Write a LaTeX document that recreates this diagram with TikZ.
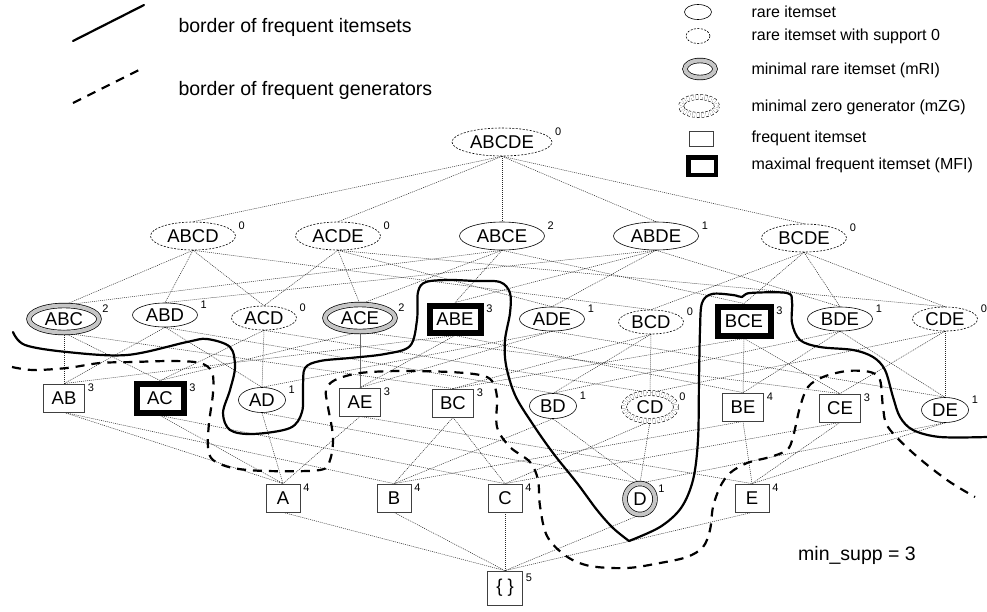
\documentclass[tikz,border=0pt]{standalone}
\usepackage{fontspec}
\setmainfont{Liberation Sans}
\usetikzlibrary{shapes.geometric,backgrounds}

\begin{document}
\begin{tikzpicture}[x=1pt,y=-1pt,
	every node/.append style={font=\fontsize{18.5}{20}\selectfont},
	rare/.style={ellipse,draw,line width=0.6pt,fill=white,inner sep=0pt},
	rarezero/.style={rare,dash pattern=on 2pt off 1.5pt},
	mri/.style={ellipse,draw,line width=0.7pt,double=gray!45,double distance=4pt,fill=white,inner sep=0pt},
	mzg/.style={ellipse,draw,line width=0.6pt,dash pattern=on 2.5pt off 2pt,double,double distance=4.5pt,fill=white,inner sep=0pt},
	freq/.style={rectangle,draw=black!75,line width=0.8pt,fill=white,inner sep=0pt},
	mfi/.style={rectangle,draw,line width=6pt,fill=white,inner sep=0pt},
	supp/.style={font=\fontsize{11}{11}\selectfont,inner sep=0pt},
	lat/.style={line width=0.5pt,black!85,dash pattern=on 1pt off 1pt},
	fiborder/.style={line width=2.2pt,line cap=round,line join=round},
	fgborder/.style={line width=2.2pt,dash pattern=on 9pt off 7pt},
	legtext/.style={anchor=west,font=\fontsize{16}{18}\selectfont},
	l5/.style={minimum width=100pt,minimum height=28pt},
	l4/.style={minimum width=85pt,minimum height=28pt},
	l3/.style={minimum width=65pt,minimum height=24pt},
	l2/.style={minimum width=47pt,minimum height=25pt},
	box2/.style={minimum width=41pt,minimum height=28pt},
	box1/.style={minimum width=34pt,minimum height=28pt}]

\useasboundingbox (0,0) rectangle (987,611);

% An itemset with its support written up right
\newcommand{\itemset}[5]{% name, style, position, label, support
	\node[#2] (#1) at (#3) {#4};
	\node[supp] (#1s) at ([xshift=6pt,yshift=10pt]#1.east) {#5};
}

% Left legend
\draw[fiborder] (73,41) -- (144,5);
\node[anchor=west,font=\fontsize{19.5}{22}\selectfont] (lgfi) at (175,27) {border of frequent itemsets};
\draw[fgborder] (73,103) -- (139,70);
\node[anchor=west,font=\fontsize{19.5}{22}\selectfont] (lgfg) at (175,90) {border of frequent generators};

% Right legend
\node[rare,minimum width=27pt,minimum height=15pt] (lg1) at (698,12) {};
\node[legtext] (lt1) at (748,12) {rare itemset};
\node[rarezero,minimum width=24pt,minimum height=15pt] (lg2) at (698,36) {};
\node[legtext] (lt2) at (748,36) {rare itemset with support 0};
\node[mri,minimum width=30pt,minimum height=17pt] (lg3) at (700,69) {};
\node[legtext] (lt3) at (748,70) {minimal rare itemset (mRI)};
\node[mzg,minimum width=36pt,minimum height=18pt] (lg4) at (699,106) {};
\node[legtext] (lt4) at (748,107) {minimal zero generator (mZG)};
\node[freq,minimum width=24pt,minimum height=15pt] (lg5) at (701,139) {};
\node[legtext] (lt5) at (748,138) {frequent itemset};
\node[mfi,line width=4.5pt,minimum width=27.5pt,minimum height=17.5pt] (lg6) at (702,166) {};
\node[legtext] (lt6) at (748,165) {maximal frequent itemset (MFI)};

% Level 5 and 4
\itemset{ABCDE}{rarezero,l5}{502,142}{ABCDE}{0}
\itemset{ABCD}{rarezero,l4}{193,236}{ABCD}{0}
\itemset{ACDE}{rarezero,l4}{338,236}{ACDE}{0}
\itemset{ABCE}{rare,l4}{502,236}{ABCE}{2}
\itemset{ABDE}{rare,l4}{656,236}{ABDE}{1}
\itemset{BCDE}{rarezero,l4}{804,238}{BCDE}{0}

% Level 3
\itemset{ABC}{mri,minimum width=70pt,minimum height=27pt}{64,319}{ABC}{2}
\itemset{ABD}{rare,l3}{165,315}{ABD}{1}
\itemset{ACD}{rarezero,l3}{264,318}{ACD}{0}
\itemset{ACE}{mri,minimum width=70pt,minimum height=27pt}{360,318}{ACE}{2}
\itemset{ABE}{mfi,minimum width=51pt,minimum height=27pt}{455,319}{ABE}{3}
\itemset{ADE}{rare,l3}{552,319}{ADE}{1}
\itemset{BCD}{rarezero,l3}{651,322}{BCD}{0}
\itemset{BCE}{mfi,minimum width=53pt,minimum height=29pt}{744,321}{BCE}{3}
\itemset{BDE}{rare,l3}{840,319}{BDE}{1}
\itemset{CDE}{rarezero,l3}{945,319}{CDE}{0}

% Level 2
\itemset{AB}{freq,box2}{64,398}{AB}{3}
\itemset{AC}{mfi,minimum width=47pt,minimum height=29pt}{160,398}{AC}{3}
\itemset{AD}{rare,l2}{262,400}{AD}{1}
\itemset{AE}{freq,box2}{360,402}{AE}{3}
\itemset{BC}{freq,box2}{453,403}{BC}{3}
\itemset{BD}{rare,l2}{553,406}{BD}{1}
\itemset{CD}{mzg,minimum width=52pt,minimum height=28pt}{650,407}{CD}{0}
\itemset{BE}{freq,box2}{743,407}{BE}{4}
\itemset{CE}{freq,box2}{840,408}{CE}{3}
\itemset{DE}{rare,l2}{945,410}{DE}{1}

% Level 1 and the empty set
\itemset{A}{freq,box1}{283,498}{A}{4}
\itemset{B}{freq,box1}{394,498}{B}{4}
\itemset{C}{freq,box1}{505,498}{C}{4}
\itemset{D}{mri,minimum width=30pt,minimum height=31pt}{640,499}{D}{1}
\itemset{E}{freq,box1}{752,498}{E}{4}
\itemset{empty}{freq,minimum width=35pt,minimum height=34pt}{505,588}{\{ \}}{5}

% Lattice edges
\begin{scope}[on background layer]
\foreach \u/\l in {ABCDE/ABCD,ABCDE/ACDE,ABCDE/ABCE,ABCDE/ABDE,ABCDE/BCDE,
	ABCD/ABC,ABCD/ABD,ABCD/ACD,ABCD/BCD,ACDE/ACD,ACDE/ACE,ACDE/ADE,ACDE/CDE,
	ABCE/ABC,ABCE/ABE,ABCE/ACE,ABCE/BCE,ABDE/ABD,ABDE/ABE,ABDE/ADE,ABDE/BDE,
	BCDE/BCD,BCDE/BCE,BCDE/BDE,BCDE/CDE,
	ABC/AB,ABC/AC,ABC/BC,ABD/AB,ABD/AD,ABD/BD,ACD/AC,ACD/AD,ACD/CD,ACE/AC,ACE/CE,
	ABE/AB,ABE/AE,ABE/BE,ADE/AD,ADE/AE,ADE/DE,BCD/BC,BCD/BD,BCD/CD,BCE/BC,BCE/BE,
	BCE/CE,BDE/BD,BDE/BE,BDE/DE,CDE/CD,CDE/CE,CDE/DE,
	AB/A,AB/B,AC/A,AC/C,AD/A,AD/D,AE/A,AE/E,BC/B,BC/C,BD/B,BD/D,BE/B,BE/E,
	CD/C,CD/D,CE/C,CE/E,DE/D,DE/E,
	A/empty,B/empty,C/empty,D/empty,E/empty}
\draw[lat] (\u.south) -- (\l.north);
\draw[lat,solid,black!60] (ACE.south) -- (AE.north);
\end{scope}

% Border of frequent itemsets (two arms meeting in a point below D)
\draw[fiborder] plot[smooth,tension=0.55] coordinates {(13,332) (25,345) (67,352) (127,355) (187,342) (207,339) (230,347) (235,367) (230,390) (223,413) (230,430) (253,434) (290,428) (302,412) (303,387) (305,368) (320,361) (350,358) (385,354) (410,346) (417,320) (418,292) (426,282) (450,280) (475,281) (500,282) (510,293) (510,313) (505,340) (506,365) (515,395) (532,423) (553,453) (577,483) (597,510) (613,528) (629,541)};
\draw[fiborder] plot[smooth,tension=0.55] coordinates {(629,541) (660,527) (681,508) (693,480) (698,440) (699,380) (700,330) (702,303) (712,294) (733,295) (742,297) (750,293) (787,293) (792,302) (792,323) (800,340) (820,347) (853,350) (873,357) (885,370) (893,397) (900,417) (913,430) (940,437) (987,437)};

% Border of frequent generators
\draw[fgborder] plot[smooth,tension=0.55] coordinates {(12,367) (33,370) (67,368) (100,363) (133,362) (173,361) (200,363) (212,372) (213,393) (209,423) (208,447) (213,460) (233,468) (267,471) (320,470) (330,460) (333,437) (328,407) (326,390) (335,380) (360,373) (400,371) (450,372) (480,375) (492,381) (497,397) (497,427) (510,447) (530,462) (538,480) (540,506) (547,536) (566,556) (590,566) (627,568) (660,563) (687,557) (703,547) (710,530) (713,507) (720,487) (730,473) (747,463) (770,457) (787,450) (793,437) (800,407) (808,387) (823,377) (847,371) (870,372) (880,380) (883,407) (888,427) (913,453) (947,480) (975,497)};

\node[font=\fontsize{19.5}{22}\selectfont] (minsupp) at (857,555) {min\_supp = 3};
\end{tikzpicture}
\end{document}
